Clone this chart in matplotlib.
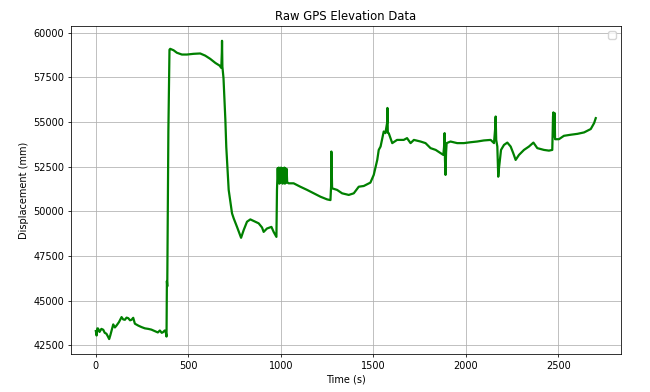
import matplotlib
matplotlib.use("Agg")
import matplotlib.pyplot as plt

# valores (tempo em s, deslocamento em mm)
time_s = [
    0, 4, 8, 12, 20, 30, 40, 48, 57, 65, 72, 78, 84, 94, 103, 112, 125, 139, 148,
    157, 166, 175, 185, 193, 202, 211, 230, 247, 265, 283, 300, 319, 335, 346,
    356, 364, 372, 377, 382, 384, 386, 389, 392, 395, 398,
    402, 420, 438, 465, 492, 528, 564, 591, 618, 646, 669, 678, 681, 682, 684,
    690, 700, 705, 709, 718, 736, 745, 763, 785, 799, 817, 835, 853, 880, 898,
    907, 925, 949, 961, 976, 979, 983,
    986, 989, 992, 995, 998, 1001, 1004, 1007, 1010, 1013, 1016, 1019, 1022,
    1025, 1028, 1031, 1034, 1037,
    1042, 1069, 1105, 1142, 1178, 1214, 1250, 1268, 1272, 1273, 1277, 1304,
    1331, 1367, 1394, 1421, 1448, 1484, 1502, 1521, 1529, 1539, 1556, 1565,
    1575, 1576, 1578, 1583, 1602, 1628, 1664, 1682, 1701, 1719, 1755, 1782,
    1809, 1837, 1863, 1878, 1882, 1885, 1887, 1890, 1893, 1896, 1917, 1953,
    1989, 2025, 2061, 2097, 2134, 2152, 2158, 2161, 2164, 2170, 2175, 2179,
    2190, 2206, 2224, 2242, 2256, 2269, 2287, 2314, 2341, 2365, 2386, 2422,
    2449, 2467, 2471, 2473, 2477, 2480, 2482, 2503, 2530, 2567, 2603, 2639,
    2675, 2693, 2702,
]
displacement_mm = [
    43300, 43050, 43450, 43440, 43250, 43420, 43370, 43200, 43150, 43000, 42850,
    43050, 43290, 43670, 43500, 43610, 43800, 44080, 43950, 43930, 44050, 44020,
    43900, 43930, 44040, 43710, 43600, 43520, 43450, 43420, 43380, 43290, 43220,
    43330, 43200, 43240, 43330, 43290, 42990, 46100, 45800, 50000, 54500, 57000,
    59050,
    59100, 59020, 58880, 58780, 58780, 58820, 58840, 58720, 58540, 58310, 58160,
    58030, 58900, 59550, 58100,
    57450, 55130, 53600, 52880, 51200, 49890, 49610, 49130, 48520, 48950, 49420,
    49550, 49460, 49330, 49100, 48850, 49040, 49130, 48850, 48570, 51200, 52420,
    51600, 52450, 51550, 52400, 51600, 52450, 51650, 52400, 51550, 52420, 51600,
    52450, 51550, 52400, 51600, 52380, 51650, 51600,
    51570, 51570, 51380, 51200, 51010, 50820, 50670, 50630, 51500, 53350, 51290,
    51200, 51010, 50920, 51010, 51380, 51420, 51610, 52040, 52880, 53440, 53630,
    54470, 54380, 55000, 55790, 54400, 54380, 53820, 54000, 54000, 54100, 53820,
    54000, 53910, 53820, 53540, 53440, 53260, 53160, 53600, 54380, 52900, 52040,
    53300, 53820, 53910, 53820, 53820, 53870, 53910, 53970, 54000, 53820, 54600,
    55310, 54000, 53630, 51940, 52420, 53440, 53720, 53850, 53630, 53260, 52880,
    53160, 53440, 53630, 53850, 53540, 53440, 53400, 53440, 55300, 55540, 54200,
    55500, 54040, 54040, 54230, 54290, 54340, 54420, 54610, 54940, 55220,
]

s = 0.7
plt.rcParams.update({
    "font.size": 10 * s,
    "axes.titlesize": 12 * s,
    "axes.titlepad": 6 * s,
    "axes.labelpad": 4 * s,
    "axes.linewidth": 0.8 * s,
    "grid.linewidth": 0.8 * s,
    "xtick.major.size": 3.5 * s,
    "ytick.major.size": 3.5 * s,
    "xtick.major.width": 0.8 * s,
    "ytick.major.width": 0.8 * s,
    "xtick.major.pad": 3.5 * s,
    "ytick.major.pad": 3.5 * s,
})

fig, ax = plt.subplots(figsize=(6.5, 3.92), dpi=100)
fig.subplots_adjust(left=0.109, right=0.955, bottom=0.097, top=0.934)

ax.plot(time_s, displacement_mm, color="green", linewidth=1.6)

ax.set_title("Raw GPS Elevation Data")
ax.set_xlabel("Time (s)")
ax.set_ylabel("Displacement (mm)")
ax.grid(True)
# legenda vazia (nenhuma série com rótulo), como no original
ax.legend(handles=[], loc="upper right")

fig.savefig("out.png")
